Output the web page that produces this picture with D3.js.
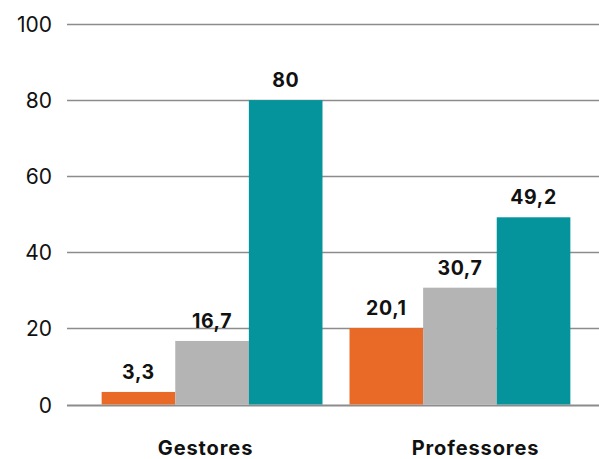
<!DOCTYPE html>
<html>
<head>
<meta charset="utf-8">
<script src="https://cdn.jsdelivr.net/npm/d3@7"></script>
<style>
  html, body { margin: 0; padding: 0; background: #fff; }
  svg { display: block; font-family: Inter, Lato, sans-serif; }
</style>
</head>
<body>
<svg id="chart" width="599" height="459"></svg>
<script>
const categories = ["Gestores", "Professores"];
const seriesNames = ["Série 1", "Série 2", "Série 3"];
const seriesColors = ["#E86A26", "#B4B4B4", "#06949C"];
const series1 = [3.3, 20.1];
const series2 = [16.7, 30.7];
const series3 = [80, 49.2];
const yTicks = [0, 20, 40, 60, 80, 100];

const svg = d3.select("#chart");
const W = 599, H = 459;
const FONT = "Inter, Lato, sans-serif";
const x0 = d3.scaleBand().domain(categories).range([88, 584]).paddingInner(0.109).paddingOuter(0.055);
const x1 = d3.scaleBand().domain(seriesNames).range([0, x0.bandwidth()]);
const y = d3.scaleLinear().domain([0, 100]).range([404.5, 24]);
// category label positions (labels sit slightly off the group centres in the source)
const xLabel = d3.scalePoint().domain(categories).range([205, 475]);

// gridlines
const grid = svg.append("g");
grid.selectAll("line").data(yTicks).join("line")
  .attr("x1", 67).attr("x2", W)
  .attr("y1", d => Math.round(y(d)) + 0.5)
  .attr("y2", d => Math.round(y(d)) + 0.5)
  .attr("stroke", "#8c8c8c")
  .attr("stroke-width", d => d === 0 ? 2 : 1.3);

// y axis labels
const yAxis = d3.axisLeft(y).tickValues(yTicks).tickSize(0).tickPadding(0);
const ya = svg.append("g").attr("transform", "translate(52,0)").call(yAxis);
ya.select(".domain").remove();
ya.selectAll("text").attr("font-size", 21).attr("fill", "#111").attr("font-family", FONT).attr("dy", "0.36em");

const data = categories.map((c, i) => ({
  cat: c,
  vals: [series1[i], series2[i], series3[i]].map((v, j) => ({ key: seriesNames[j], v, color: seriesColors[j] }))
}));

const groups = svg.selectAll("g.grp").data(data).join("g")
  .attr("class", "grp")
  .attr("transform", d => `translate(${x0(d.cat)},0)`);

groups.selectAll("rect").data(d => d.vals).join("rect")
  .attr("x", d => x1(d.key))
  .attr("width", x1.bandwidth())
  .attr("y", d => y(d.v))
  .attr("height", d => y(0) - y(d.v))
  .attr("fill", d => d.color);

groups.selectAll("text.val").data(d => d.vals).join("text")
  .attr("class", "val")
  .attr("x", d => x1(d.key) + x1.bandwidth() / 2)
  .attr("y", d => y(d.v) - 13)
  .attr("text-anchor", "middle")
  .attr("font-size", 19.5)
  .attr("font-weight", 700)
  .attr("letter-spacing", 0.6)
  .attr("fill", "#111")
  .text(d => String(d.v).replace(".", ","));

// category labels
const xAxis = d3.axisBottom(xLabel).tickSize(0).tickPadding(0);
const xa = svg.append("g").attr("transform", "translate(0,455)").call(xAxis);
xa.select(".domain").remove();
xa.selectAll("text").attr("font-size", 20).attr("font-weight", 700).attr("fill", "#111")
  .attr("letter-spacing", 0.9)
  .attr("font-family", FONT).attr("dy", 0);
</script>
</body>
</html>
